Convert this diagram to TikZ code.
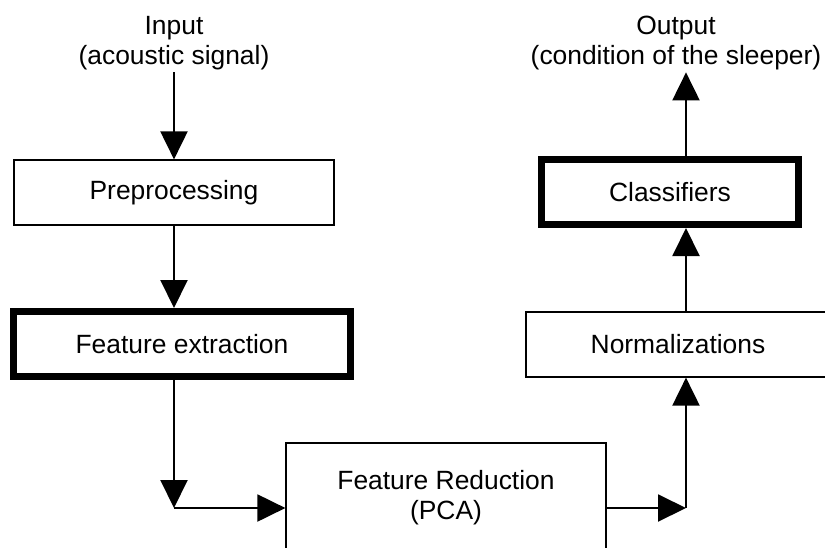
\documentclass[tikz,border=0pt]{standalone}
\usepackage{fontspec}
\setmainfont{Liberation Sans}
\usetikzlibrary{arrows.meta}

\begin{document}
\begin{tikzpicture}[x=0.5pt, y=-0.5pt,
    font=\fontsize{13.2}{15}\selectfont,
    box/.style={draw, rectangle, minimum height=32.5pt, inner sep=0pt},
    thinbox/.style={box, line width=0.6pt},
    thickbox/.style={box, line width=3.5pt},
    flow/.style={line width=1pt, -{Triangle[width=13.5pt, length=14pt]}}]

  \useasboundingbox (0,0) rectangle (825,547);

  \begin{scope}[every node/.style={align=center, inner sep=1pt}]
    \node (in)  at (174,43) {Input\\(acoustic signal)};
    \node (out) at (676,43) {Output\\(condition of the sleeper)};
  \end{scope}

  \node[thinbox, minimum width=160pt]  (pre)  at (174,192.5) {Preprocessing};
  \node[thickbox, minimum width=168.5pt] (fext) at (182,344)   {Feature extraction};
  \node[thinbox, minimum width=160pt, minimum height=55pt, align=center]
                                        (red)  at (446,498)   {Feature Reduction\\(PCA)};
  \node[thinbox, minimum width=152pt]  (norm) at (678,344.5) {Normalizations};
  \node[thickbox, minimum width=128.5pt] (clf) at (670,192)  {Classifiers};

  \coordinate (lc) at (174,508);
  \coordinate (rc) at (686,508);

  \draw[flow] (in.south) -- (pre.north);
  \draw[flow] (pre.south) -- (pre.south |- fext.north);
  \draw[flow] (pre.south |- fext.south) -- (lc);
  \draw[flow] (lc) -- (lc -| red.west);
  \draw[flow] (red.east |- rc) -- (rc);
  \draw[flow] (rc) -- (rc |- norm.south);
  \draw[flow] (rc |- norm.north) -- (rc |- clf.south);
  \draw[flow] (rc |- clf.north) -- (rc |- out.south);

\end{tikzpicture}
\end{document}
